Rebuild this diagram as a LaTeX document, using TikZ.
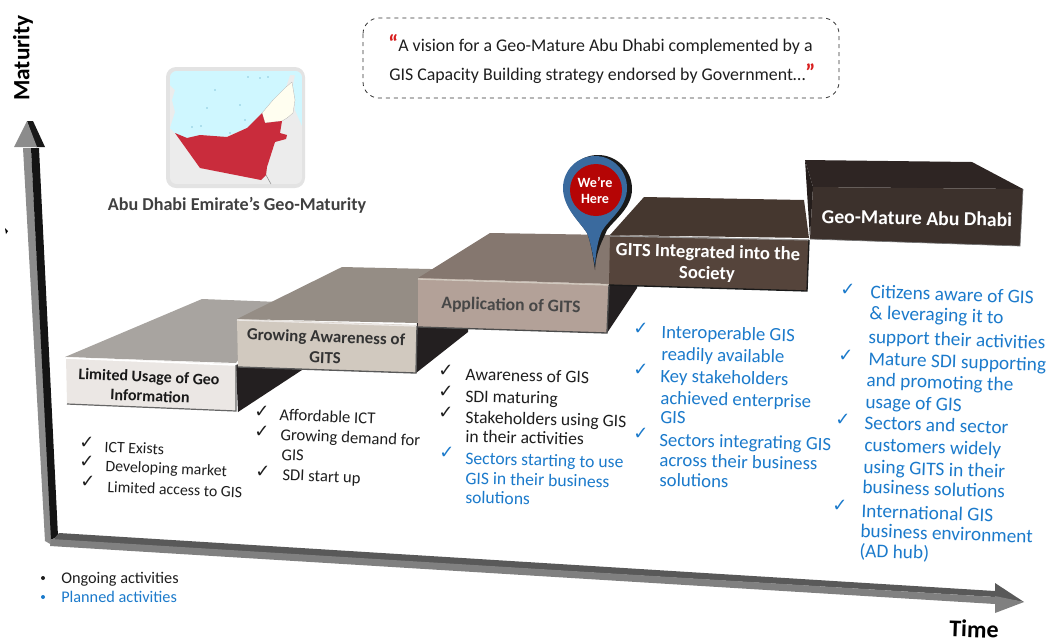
\documentclass[tikz,border=0pt]{standalone}
\usepackage{fontspec}
\setmainfont{Carlito}
\newfontfamily\dv{DejaVu Sans}
\definecolor{planblue}{HTML}{1B7ACB}
\definecolor{txtblack}{HTML}{1E1E1E}
\definecolor{sideblack}{HTML}{231F20}
\definecolor{topa}{HTML}{A8A4A0}\definecolor{fronta}{HTML}{EBE7E4}
\definecolor{topb}{HTML}{958D85}\definecolor{frontb}{HTML}{D1C9BF}
\definecolor{topc}{HTML}{85776F}\definecolor{frontc}{HTML}{B3A198}
\definecolor{topd}{HTML}{45372F}\definecolor{frontd}{HTML}{55443B}
\definecolor{tope}{HTML}{2E2523}\definecolor{lefte}{HTML}{241D1B}\definecolor{fronte}{HTML}{3C312C}
\definecolor{seablue}{HTML}{CFF7FF}\definecolor{landgrey}{HTML}{ECECEC}\definecolor{frameg}{HTML}{E3E3E3}
\definecolor{mapred}{HTML}{C92C3C}\definecolor{pinblue}{HTML}{3A6A9E}\definecolor{pinred}{HTML}{B50505}
\definecolor{quotered}{HTML}{D81E1E}
\tikzset{
  px/.style={x=0.75pt,y=-0.75pt},
  tl/.style={anchor=base west,inner sep=0pt,text=txtblack},
  pl/.style={tl,text=planblue},
  ck/.style={anchor=center,inner sep=0pt,text=txtblack,font=\dv\fontsize{13.5}{13.5}\selectfont},
  pk/.style={ck,text=planblue},
  s1/.style={font=\fontsize{11.9}{12}\selectfont,rotate=-2.5},
  s2/.style={font=\fontsize{12.5}{12}\selectfont,rotate=-2.5},
  s3/.style={font=\fontsize{13.2}{12}\selectfont,rotate=-1.5},
  s4/.style={font=\fontsize{14.1}{12}\selectfont,rotate=-1.5},
  s5/.style={font=\fontsize{14.5}{12}\selectfont,rotate=-2},
  bt/.style={anchor=center,inner sep=0pt,font=\bfseries\fontsize{#1}{12}\selectfont},
  qt/.style={anchor=base west,inner sep=0pt,font=\fontsize{13.4}{14}\selectfont,text=txtblack},
}
\begin{document}
\begin{tikzpicture}[px]
\useasboundingbox (0,0) rectangle (1049,637);
% ---- Y axis
\fill[gray!90] (23,148) -- (31,148) -- (52,545) -- (45,541) -- cycle;
\fill[black!92] (31,148) -- (39,148) -- (58,536) -- (51,540) -- cycle;
\fill[black!90] (27,121) -- (33,121) -- (45,147) -- (36,147) -- cycle;
\fill[gray!90] (14,147) -- (27,121) -- (37,147) -- cycle;
% ---- X axis
\fill[black!65] (59,533) -- (995,591) -- (995,597) -- (53,540) -- cycle;
\fill[black!50] (51,539) -- (995,597) -- (995,604) -- (50,546) -- cycle;
\fill[black!65] (995,583) -- (1024,602) -- (995,597) -- cycle;
\fill[black!50] (995,596) -- (1024,602) -- (995,613) -- cycle;
\fill (5,228) -- (8,231) -- (6,234) -- cycle;
% ---- Map
\fill[frameg,rounded corners=7.5pt] (166,67) rectangle (305,188);
\begin{scope}
\clip[rounded corners=5pt] (170,71) rectangle (302,184);
\fill[landgrey] (170,71) rectangle (302,184);
\fill[seablue] (170,71) -- (302,71) -- (302,126) -- (295,110) -- (293,85) -- (295,75) -- (290,75) -- (286,87) -- (262,113) -- (247,128) -- (225,137) -- (200,135) -- (187,139) -- (175,133) -- (170,128) -- (175,112) -- (172,100) -- (175,90) -- (170,85) -- cycle;
\fill[yellow!6!white,draw=black!30,line width=0.2pt] (262,113) -- (273,100) -- (286,87) -- (292,82) -- (295,100) -- (293,113) -- (287,118) -- (282,121) -- (265,123) -- cycle;
\fill[mapred] (175,133) -- (187,138) -- (200,135) -- (227,137) -- (247,128) -- (262,113) -- (265,123) -- (282,121) -- (280,133) -- (287,135) -- (286,139) -- (275,142) -- (267,167) -- (266,175) -- (261,180) -- (200,168) -- cycle;
\draw[black!45,line width=0.4pt] (266,175) -- (271,184);
\foreach \a/\b in {248/77,260/78,268/77,240/105,207/108,192/127,201/126,230/133,245/120,215/90}{\fill[cyan!70!black] (\a,\b) circle (0.5pt);}
\end{scope}
\node[bt=13.6,text=black!75] (maplabel) at (237,205) {Abu Dhabi Emirate’s Geo-Maturity};
% ---- Quote
\draw[dashed,black!80,line width=0.6pt,rounded corners=12pt] (363,18) rectangle (839,98);
\node[qt] (q1) at (388,51) {\textcolor{quotered}{\textbf{\LARGE “}}A vision for a Geo-Mature Abu Dhabi complemented by a};
\node[qt] (q2) at (389,80) {GIS Capacity Building strategy endorsed by Government…\textcolor{quotered}{\textbf{\LARGE ”}}};
% ---- Axis labels
\node[bt=17.5,rotate=90,text=black] (maturity) at (23,58) {Maturity};
\node[bt=18,text=black,rotate=-2] (time) at (974,629) {Time};
% ---- Step 1
\fill[sideblack] (236,365) -- (238,412) -- (302,370) -- (302,340) -- cycle;
\fill[topa] (65,357) -- (202,299) -- (280,302) -- (236,363) -- cycle;
\fill[fronta] (66,357) -- (236,364) -- (236,411) -- (67,404) -- cycle;
\draw[white,line width=1.2pt] (66,358) -- (236,365);
\draw[black!60,line width=0.9pt] (67,404) -- (236,411) -- (236,365);
% ---- Step 2
\fill[sideblack] (417,323) -- (416,373) -- (468,332) -- (468,290) -- cycle;
\fill[topb] (237,319) -- (342,267) -- (475,270) -- (417,323) -- cycle;
\fill[frontb] (237,319) -- (417,325) -- (416,373) -- (238,367) -- cycle;
\draw[fronta,line width=1pt] (237,320) -- (417,326);
\draw[black!65,line width=1pt] (238,367) -- (416,373) -- (417,326);
% ---- Step 3
\fill[sideblack] (609,284) -- (607,333) -- (637,288) -- (637,250) -- cycle;
\fill[topc] (418,278) -- (490,233) -- (612,235) -- (609,284) -- cycle;
\fill[frontc] (418,278) -- (609,284) -- (607,333) -- (418,327) -- cycle;
\draw[frontb,line width=1pt] (418,279) -- (609,285);
\draw[black!70,line width=1pt] (418,327) -- (607,333) -- (609,285);
% ---- Step 5 (behind step 4)
\fill[tope] (805,160) -- (972,162) -- (1023,189) -- (813,187) -- cycle;
\fill[lefte] (805,160) -- (813,187) -- (810,239) -- cycle;
\fill[fronte] (813,187) -- (1023,189) -- (1020,246) -- (810,239) -- cycle;
\draw[black!55,line width=0.5pt] (810,239) -- (1020,246) -- (1023,189);
% ---- Step 4
\fill[topd] (610,235) -- (644,197) -- (804,200) -- (809,238) -- cycle;
\fill[frontd] (610,235) -- (809,240) -- (807,291) -- (609,285) -- cycle;
\draw[black!40,line width=0.8pt] (610,236) -- (809,240);
\draw[black!90,line width=1pt] (609,285) -- (807,291) -- (809,240);
% ---- Step labels
\node[bt=12,rotate=-2.5,text=black!90] (l1a) at (149,378) {Limited Usage of Geo};
\node[bt=12,rotate=-2.5,text=black!90] (l1b) at (150,396) {Information};
\node[bt=12.7,rotate=-2,text=black!80] (l2a) at (326,338) {Growing Awareness of};
\node[bt=12.7,rotate=-2,text=black!80] (l2b) at (325,358) {GITS};
\node[bt=13.2,rotate=-1.5,text=black!72] (l3) at (511,306) {Application of GITS};
\node[bt=14,rotate=-1.5,text=white] (l4a) at (708,253) {GITS Integrated into the};
\node[bt=14,rotate=-1.5,text=white] (l4b) at (707,274) {Society};
\node[bt=14.8,rotate=-1,text=white] (l5) at (917,218) {Geo-Mature Abu Dhabi};
% ---- Pin
\fill[black!90] (595,270) .. controls (596,250) and (603,240) .. (607,230) .. controls (614,220) and (632,208) .. (632,189) arc (0:-180:34) .. controls (564,208) and (580,222) .. (587,233) .. controls (590,240) and (592,250) .. cycle;
\fill[pinblue] (595,266) .. controls (596,250) and (598,240) .. (602,231) .. controls (608,220) and (627,208) .. (627,188) arc (0:-180:32) .. controls (563,208) and (580,222) .. (587,233) .. controls (590,240) and (592,250) .. cycle;
\fill[pinred] (596,190) circle (26);
\node[bt=10.6,text=white] (p1) at (595,182) {We’re};
\node[bt=10.6,text=white] (p2) at (595,199) {Here};
% ---- List 1
\node[ck] (c11) at (87,443) {✓};
\node[ck] (c12) at (87,462) {✓};
\node[ck] (c13) at (88,482) {✓};
\node[tl,s1] (t11) at (104,452) {ICT Exists};
\node[tl,s1] (t12) at (105,471) {Developing market};
\node[tl,s1] (t13) at (107,492) {Limited access to GIS};
% ---- List 2
\node[ck] (c21) at (262,412) {✓};
\node[ck] (c22) at (262,432) {✓};
\node[ck] (c23) at (263,472) {✓};
\node[tl,s2] (t21) at (279,420) {Affordable ICT};
\node[tl,s2] (t22) at (280,440) {Growing demand for};
\node[tl,s2] (t23) at (281,460) {GIS};
\node[tl,s2] (t24) at (282,480) {SDI start up};
% ---- List 3
\node[ck] (c31) at (446,371) {✓};
\node[ck] (c32) at (446,392) {✓};
\node[ck] (c33) at (446,413) {✓};
\node[pk] (c34) at (447,453) {✓};
\node[tl,s3] (t31) at (465,380) {Awareness of GIS};
\node[tl,s3] (t32) at (465,402) {SDI maturing};
\node[tl,s3] (t33) at (465,423) {Stakeholders using GIS};
\node[tl,s3] (t34) at (465,442) {in their activities};
\node[pl,s3] (t35) at (465,464) {Sectors starting to use};
\node[pl,s3] (t36) at (465,484) {GIS in their business};
\node[pl,s3] (t37) at (465,503) {solutions};
% ---- List 4
\node[pk] (c41) at (641,329) {✓};
\node[pk] (c42) at (641,370) {✓};
\node[pk] (c43) at (641,434) {✓};
\node[pl,s4] (t41) at (661,338) {Interoperable GIS};
\node[pl,s4] (t42) at (661,360) {readily available};
\node[pl,s4] (t43) at (660,382) {Key stakeholders};
\node[pl,s4] (t44) at (660,404) {achieved enterprise};
\node[pl,s4] (t45) at (660,423) {GIS};
\node[pl,s4] (t46) at (659,446) {Sectors integrating GIS};
\node[pl,s4] (t47) at (659,466) {across their business};
\node[pl,s4] (t48) at (659,486) {solutions};
% ---- List 5
\node[pk] (c51) at (848,290) {✓};
\node[pk] (c52) at (846,356) {✓};
\node[pk] (c53) at (843,420) {✓};
\node[pk] (c54) at (840,506) {✓};
\node[pl,s5] (t51) at (870,298) {Citizens aware of GIS};
\node[pl,s5] (t52) at (869,319) {\&\ leveraging it to};
\node[pl,s5] (t53) at (868,343) {support their activities};
\node[pl,s5] (t54) at (868,365) {Mature SDI supporting};
\node[pl,s5] (t55) at (866,386) {and promoting the};
\node[pl,s5] (t56) at (865,408) {usage of GIS};
\node[pl,s5] (t57) at (864,429) {Sectors and sector};
\node[pl,s5] (t58) at (864,451) {customers widely};
\node[pl,s5] (t59) at (863,473) {using GITS in their};
\node[pl,s5] (t510) at (862,493) {business solutions};
\node[pl,s5] (t511) at (861,517) {International GIS};
\node[pl,s5] (t512) at (860,537) {business environment};
\node[pl,s5] (t513) at (859,557) {(AD hub)};
% ---- Legend
\fill[txtblack] (43,578) circle (2);
\fill[planblue] (43,597) circle (2);
\node[tl,font=\fontsize{12.2}{12}\selectfont] (g1) at (61,583) {Ongoing activities};
\node[pl,font=\fontsize{12.2}{12}\selectfont] (g2) at (61,602) {Planned activities};
\end{tikzpicture}
\end{document}
